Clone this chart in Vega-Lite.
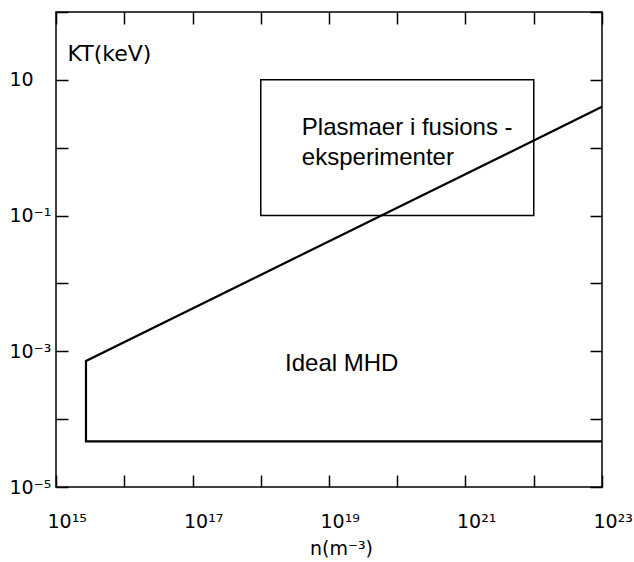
{
  "$schema": "https://vega.github.io/schema/vega-lite/v6.json",
  "width": 546,
  "height": 475,
  "autosize": {"type": "none"},
  "padding": {"left": 56, "top": 12, "right": 32, "bottom": 75},
  "background": "white",
  "config": {
    "view": {"stroke": "black", "strokeWidth": 1.5},
    "font": "DejaVu Sans"
  },
  "resolve": {"axis": {"x": "independent", "y": "independent"}},
  "layer": [
    {
      "data": {"values": [{"n1": 1e18, "n2": 1e22, "T1": 0.1, "T2": 10}]},
      "mark": {"type": "rect", "fillOpacity": 0, "stroke": "black", "strokeWidth": 1.5},
      "encoding": {
        "x": {
          "field": "n1", "type": "quantitative",
          "scale": {"type": "log", "domain": [1e15, 1e23], "nice": false},
          "axis": {
            "values": [1e15, 1e16, 1e17, 1e18, 1e19, 1e20, 1e21, 1e22, 1e23],
            "domain": false, "grid": false,
            "tickSize": -12, "tickColor": "black", "tickWidth": 1.5,
            "labelExpr": "round(log(datum.value)/LN10) == 15 ? '10¹⁵' : round(log(datum.value)/LN10) == 17 ? '10¹⁷' : round(log(datum.value)/LN10) == 19 ? '10¹⁹' : round(log(datum.value)/LN10) == 21 ? '10²¹' : round(log(datum.value)/LN10) == 23 ? '10²³' : ''",
            "labelFont": "DejaVu Sans", "labelFontSize": 19, "labelColor": "black",
            "labelAlign": "left", "labelOffset": -9, "labelBaseline": "middle",
            "labelPadding": 46, "labelFlush": false, "labelOverlap": false, "labelBound": false,
            "title": "n(m⁻³)", "titleX": 285, "titleY": 61,
            "titleAlign": "center", "titleBaseline": "middle",
            "titleFont": "DejaVu Sans", "titleFontSize": 19, "titleFontWeight": "normal", "titleColor": "black"
          }
        },
        "x2": {"field": "n2"},
        "y": {
          "field": "T1", "type": "quantitative",
          "scale": {"type": "log", "domain": [1e-5, 100], "nice": false},
          "axis": {
            "values": [1e-5, 1e-4, 1e-3, 1e-2, 1e-1, 1, 10, 100],
            "domain": false, "grid": false,
            "tickSize": -12, "tickColor": "black", "tickWidth": 1.5,
            "labelExpr": "datum.value > 5 && datum.value < 50 ? '10' : datum.value > 0.05 && datum.value < 0.5 ? '10⁻¹' : datum.value > 0.0005 && datum.value < 0.005 ? '10⁻³' : datum.value < 0.00005 ? '10⁻⁵' : ''",
            "labelFont": "DejaVu Sans", "labelFontSize": 19, "labelColor": "black",
            "labelAlign": "left", "labelBaseline": "middle",
            "labelPadding": 59, "labelFlush": false, "labelOverlap": false, "labelBound": false,
            "title": "KT(keV)", "titleAngle": 0, "titleX": 11, "titleY": 41,
            "titleAlign": "left", "titleBaseline": "middle",
            "titleFont": "DejaVu Sans", "titleFontSize": 22, "titleFontWeight": "normal", "titleColor": "black"
          }
        },
        "y2": {"field": "T2"}
      }
    },
    {
      "data": {"values": [
        {"o": 1, "n": 1e23, "T": 4.0},
        {"o": 2, "n": 2.75e15, "T": 0.00072},
        {"o": 3, "n": 2.75e15, "T": 0.000047},
        {"o": 4, "n": 1e23, "T": 0.000047}
      ]},
      "mark": {"type": "line", "color": "black", "strokeWidth": 2.2, "strokeJoin": "miter"},
      "encoding": {
        "x": {"field": "n", "type": "quantitative", "scale": {"type": "log", "domain": [1e15, 1e23], "nice": false}, "axis": null},
        "y": {"field": "T", "type": "quantitative", "scale": {"type": "log", "domain": [1e-5, 100], "nice": false}, "axis": null},
        "order": {"field": "o", "type": "quantitative"}
      }
    },
    {
      "data": {"values": [
        {"label": "Plasmaer i fusions -", "n": 4.0e18, "T": 1.54},
        {"label": "eksperimenter", "n": 4.0e18, "T": 0.556},
        {"label": "Ideal MHD", "n": 2.27e18, "T": 0.00052}
      ]},
      "mark": {"type": "text", "font": "Liberation Sans", "fontSize": 24, "align": "left", "baseline": "alphabetic", "color": "black"},
      "encoding": {
        "x": {"field": "n", "type": "quantitative", "scale": {"type": "log", "domain": [1e15, 1e23], "nice": false}, "axis": null},
        "y": {"field": "T", "type": "quantitative", "scale": {"type": "log", "domain": [1e-5, 100], "nice": false}, "axis": null},
        "text": {"field": "label", "type": "nominal"}
      }
    },
    {
      "data": {"values": [{"n": 1e18, "T": 1}]},
      "mark": {"type": "point", "opacity": 0},
      "encoding": {
        "x": {
          "field": "n", "type": "quantitative",
          "scale": {"type": "log", "domain": [1e15, 1e23], "nice": false},
          "axis": {"orient": "top", "values": [1e15, 1e16, 1e17, 1e18, 1e19, 1e20, 1e21, 1e22, 1e23], "domain": false, "grid": false, "labels": false, "title": null, "tickSize": -12, "tickColor": "black", "tickWidth": 1.5}
        },
        "y": {
          "field": "T", "type": "quantitative",
          "scale": {"type": "log", "domain": [1e-5, 100], "nice": false},
          "axis": {"orient": "right", "values": [1e-5, 1e-4, 1e-3, 1e-2, 1e-1, 1, 10, 100], "domain": false, "grid": false, "labels": false, "title": null, "tickSize": -12, "tickColor": "black", "tickWidth": 1.5}
        }
      }
    }
  ]
}
